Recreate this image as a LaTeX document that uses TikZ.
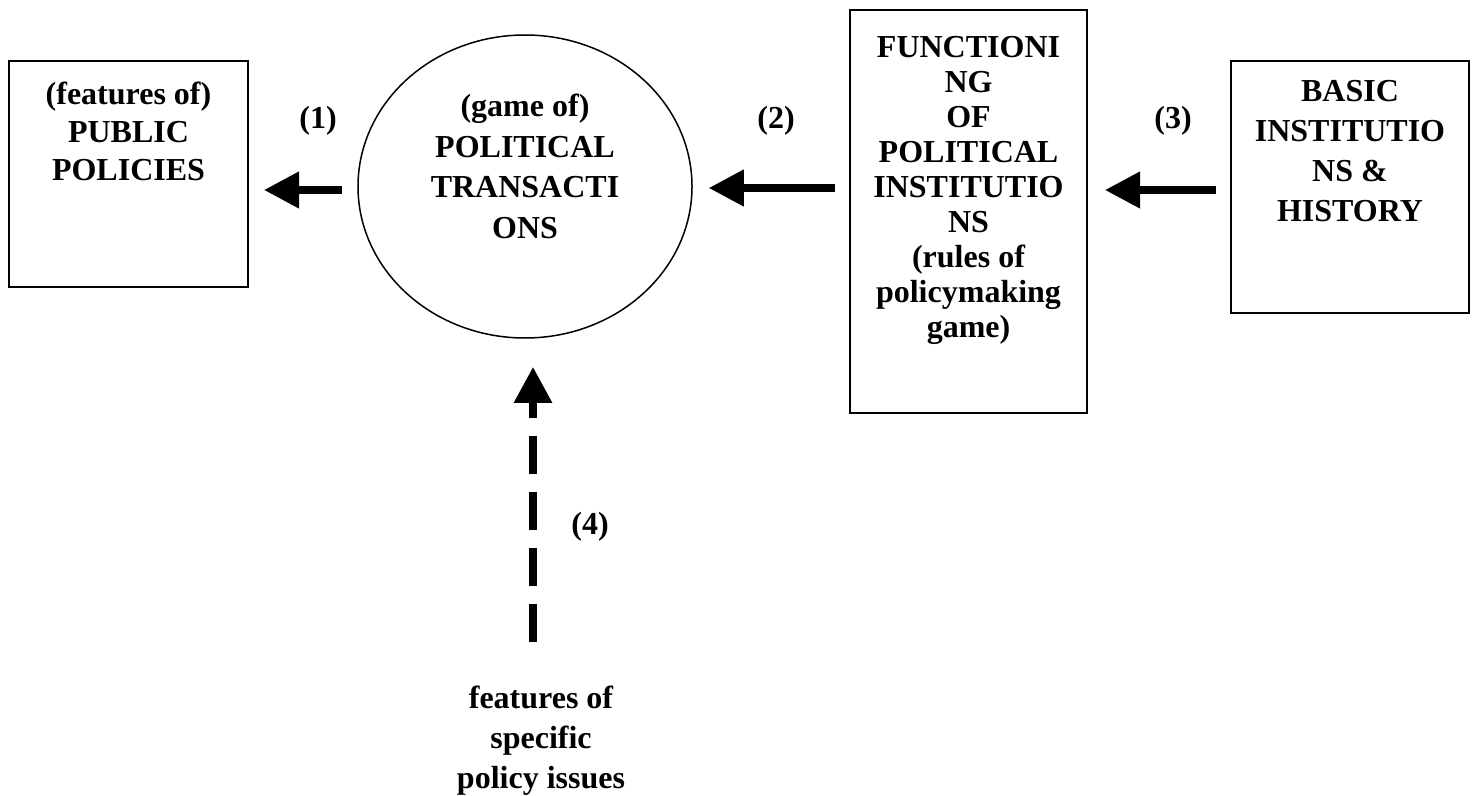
\documentclass[tikz,border=0pt]{standalone}
\usepackage{fontspec}
\setmainfont{Liberation Serif}
\usetikzlibrary{arrows.meta,shapes.geometric}
\newcommand{\bxtext}[5]{\begin{minipage}[c][#2][t]{#1}\centering\fontsize{16}{#4}\selectfont\bfseries\vspace*{#3}\strut #5\end{minipage}}
\begin{document}
\begin{tikzpicture}[x=0.5pt,y=-0.5pt,
  box/.style={draw, line width=1pt, inner sep=0pt, outer sep=0pt},
  lbl/.style={inner sep=0pt, font=\fontsize{16}{20}\selectfont\bfseries},
  bigarrow/.style={line width=3.7pt, -{Triangle[length=17.5pt,width=17.5pt]}},
  dasharrow/.style={line width=4.2pt, dash pattern=on 19pt off 9pt, -{Triangle[length=18pt,width=18pt]}}]
\useasboundingbox (0,0) rectangle (1476,796);

\node[box] (pub) at (128.5,174) {\bxtext{119.5pt}{113pt}{8.7pt}{19pt}{(features of)\\PUBLIC\\POLICIES}};
\node[ellipse, draw, line width=0.75pt, inner sep=0pt, minimum width=167pt, minimum height=151.5pt] (ell) at (525,186.5)
  {\bxtext{100pt}{100pt}{1.1pt}{20.2pt}{(game of)\\POLITICAL\\TRANSACTI\\ONS}};
\node[box] (fun) at (968.5,211.5) {\bxtext{118.5pt}{201.5pt}{11.75pt}{17.5pt}{FUNCTIONI\\NG\\OF\\POLITICAL\\INSTITUTIO\\NS\\(rules of\\policymaking\\game)}};
\node[box] (bas) at (1350,187) {\bxtext{119pt}{126pt}{6.5pt}{20pt}{BASIC\\INSTITUTIO\\NS \&\\HISTORY}};

\node[lbl] (l1) at (318,120.5) {(1)};
\node[lbl] (l2) at (776,120.5) {(2)};
\node[lbl] (l3) at (1173,120.5) {(3)};
\node[lbl] (l4) at (590,527) {(4)};
\node[lbl, align=center] (src) at (541,740.5) {features of\\specific\\policy issues};

\coordinate (lvA) at (0,190);
\coordinate (lvB) at (0,188);
\draw[bigarrow, shorten <=7.5pt, shorten >=8pt] (ell.west |- lvA) -- (pub.east |- lvA);
\draw[bigarrow, shorten <=7.5pt, shorten >=8pt] (fun.west |- lvB) -- (ell.east |- lvB);
\draw[bigarrow, shorten <=7.5pt, shorten >=9pt] (bas.west |- lvA) -- (fun.east |- lvA);
\draw[dasharrow, shorten <=21.5pt, shorten >=14pt] ([xshift=-4pt]src.north) -- ([xshift=4pt]ell.south);
\end{tikzpicture}
\end{document}
